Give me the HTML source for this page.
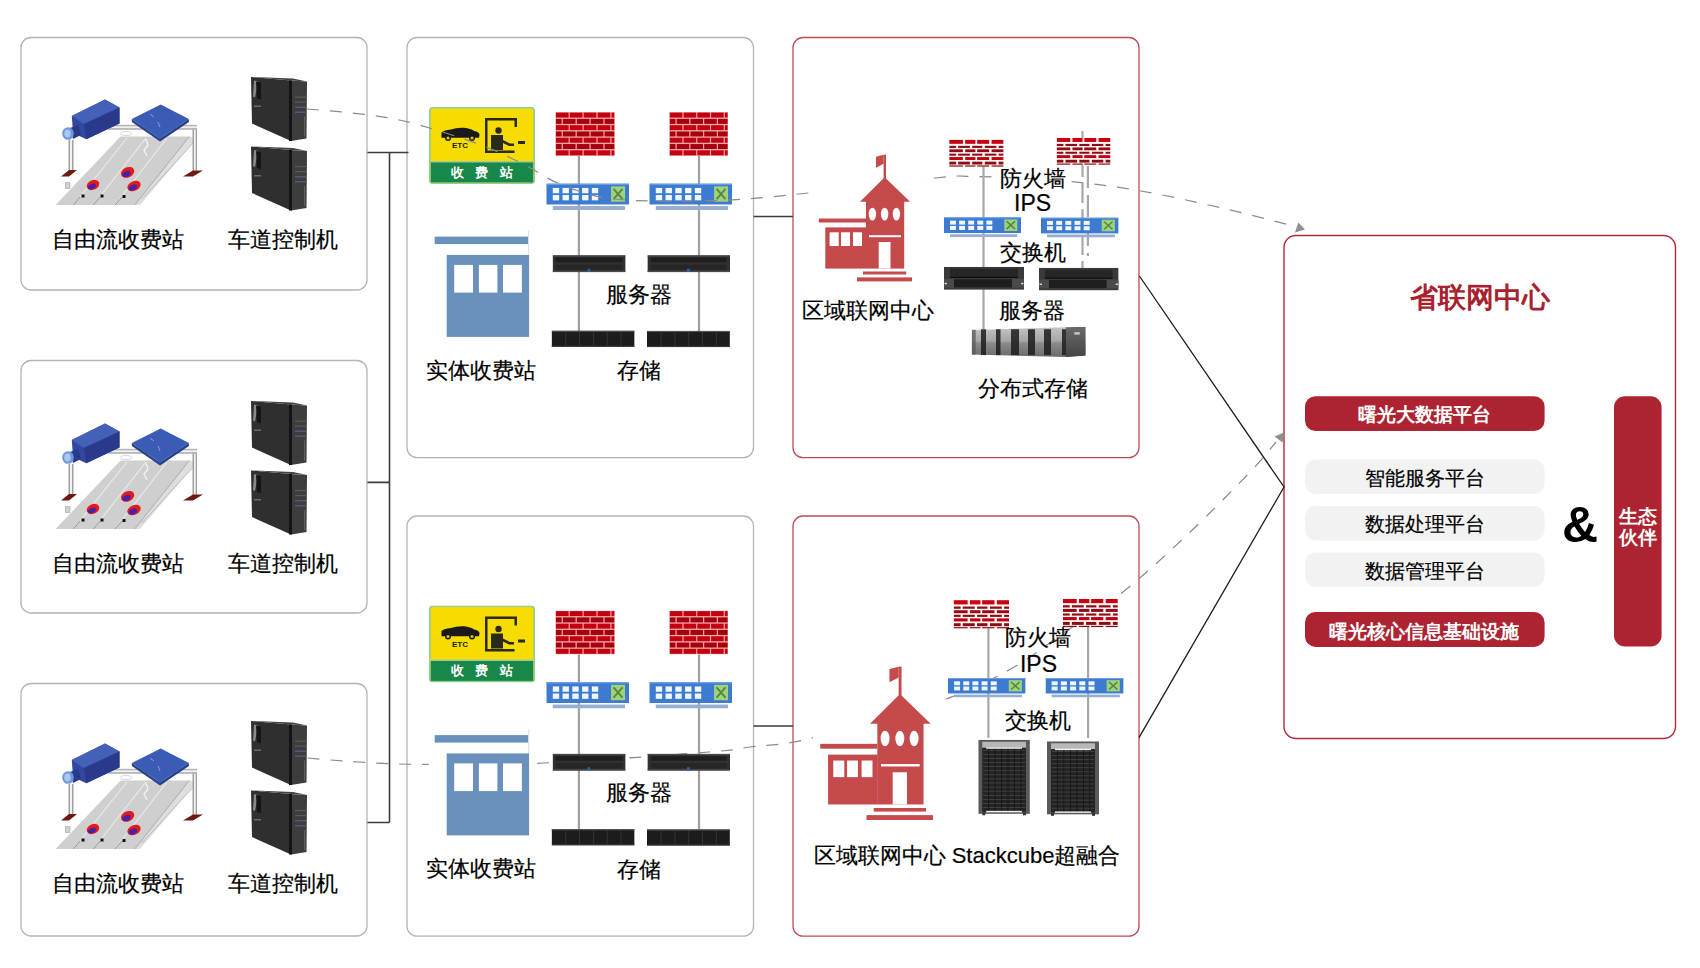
<!DOCTYPE html><html><head><meta charset="utf-8"><title>diagram</title>
<style>html,body{margin:0;padding:0;background:#fff;}svg{display:block;font-family:"Liberation Sans",sans-serif;}</style></head><body>
<svg width="1700" height="968" viewBox="0 0 1700 968">
<defs><symbol id="fw" viewBox="0 0 60 44" preserveAspectRatio="none">
<rect width="60" height="44" fill="#f3a9a9"/>
<rect x="0.60" y="0.60" width="12.80" height="4.99" fill="#c3000f"/>
<rect x="14.60" y="0.60" width="12.80" height="4.99" fill="#c3000f"/>
<rect x="28.60" y="0.60" width="12.80" height="4.99" fill="#c3000f"/>
<rect x="42.60" y="0.60" width="12.80" height="4.99" fill="#c3000f"/>
<rect x="56.60" y="0.60" width="2.80" height="4.99" fill="#c3000f"/>
<rect x="0.60" y="6.89" width="5.80" height="4.99" fill="#a5000e"/>
<rect x="7.60" y="6.89" width="12.80" height="4.99" fill="#a5000e"/>
<rect x="21.60" y="6.89" width="12.80" height="4.99" fill="#a5000e"/>
<rect x="35.60" y="6.89" width="12.80" height="4.99" fill="#a5000e"/>
<rect x="49.60" y="6.89" width="9.80" height="4.99" fill="#a5000e"/>
<rect x="0.60" y="13.17" width="12.80" height="4.99" fill="#c3000f"/>
<rect x="14.60" y="13.17" width="12.80" height="4.99" fill="#c3000f"/>
<rect x="28.60" y="13.17" width="12.80" height="4.99" fill="#c3000f"/>
<rect x="42.60" y="13.17" width="12.80" height="4.99" fill="#c3000f"/>
<rect x="56.60" y="13.17" width="2.80" height="4.99" fill="#c3000f"/>
<rect x="0.60" y="19.46" width="5.80" height="4.99" fill="#a5000e"/>
<rect x="7.60" y="19.46" width="12.80" height="4.99" fill="#a5000e"/>
<rect x="21.60" y="19.46" width="12.80" height="4.99" fill="#a5000e"/>
<rect x="35.60" y="19.46" width="12.80" height="4.99" fill="#a5000e"/>
<rect x="49.60" y="19.46" width="9.80" height="4.99" fill="#a5000e"/>
<rect x="0.60" y="25.74" width="12.80" height="4.99" fill="#c3000f"/>
<rect x="14.60" y="25.74" width="12.80" height="4.99" fill="#c3000f"/>
<rect x="28.60" y="25.74" width="12.80" height="4.99" fill="#c3000f"/>
<rect x="42.60" y="25.74" width="12.80" height="4.99" fill="#c3000f"/>
<rect x="56.60" y="25.74" width="2.80" height="4.99" fill="#c3000f"/>
<rect x="0.60" y="32.03" width="5.80" height="4.99" fill="#a5000e"/>
<rect x="7.60" y="32.03" width="12.80" height="4.99" fill="#a5000e"/>
<rect x="21.60" y="32.03" width="12.80" height="4.99" fill="#a5000e"/>
<rect x="35.60" y="32.03" width="12.80" height="4.99" fill="#a5000e"/>
<rect x="49.60" y="32.03" width="9.80" height="4.99" fill="#a5000e"/>
<rect x="0.60" y="38.31" width="12.80" height="4.99" fill="#c3000f"/>
<rect x="14.60" y="38.31" width="12.80" height="4.99" fill="#c3000f"/>
<rect x="28.60" y="38.31" width="12.80" height="4.99" fill="#c3000f"/>
<rect x="42.60" y="38.31" width="12.80" height="4.99" fill="#c3000f"/>
<rect x="56.60" y="38.31" width="2.80" height="4.99" fill="#c3000f"/>
</symbol>
<symbol id="sw" viewBox="0 0 83 27" preserveAspectRatio="none">
<rect x="0" y="0" width="83" height="21.4" fill="#3d7bd0"/>
<rect x="0" y="0" width="83" height="1.5" fill="#6aa0e8"/>
<rect x="6.5" y="23" width="72.5" height="4" fill="#98aed0"/>
<rect x="6.5" y="4.6" width="6.4" height="5.4" fill="#eef6ff"/>
<rect x="6.5" y="11.8" width="6.4" height="5.4" fill="#eef6ff"/>
<rect x="16.3" y="4.6" width="6.4" height="5.4" fill="#eef6ff"/>
<rect x="16.3" y="11.8" width="6.4" height="5.4" fill="#eef6ff"/>
<rect x="26.1" y="4.6" width="6.4" height="5.4" fill="#eef6ff"/>
<rect x="26.1" y="11.8" width="6.4" height="5.4" fill="#eef6ff"/>
<rect x="35.9" y="4.6" width="6.4" height="5.4" fill="#eef6ff"/>
<rect x="35.9" y="11.8" width="6.4" height="5.4" fill="#eef6ff"/>
<rect x="45.7" y="4.6" width="6.4" height="5.4" fill="#eef6ff"/>
<rect x="45.7" y="11.8" width="6.4" height="5.4" fill="#eef6ff"/>
<rect x="65" y="3" width="14" height="15.6" fill="#9fd27c"/>
<path d="M67.5 5.5 L76.5 16 M76.5 5.5 L67.5 16" stroke="#4a7a36" stroke-width="1.8" opacity="0.85"/>
</symbol>
<symbol id="fw2" viewBox="0 0 55 27" preserveAspectRatio="none">
<rect width="55" height="27" fill="#fff6f6"/>
<rect x="0.0" y="0.2" width="13.8" height="4.0" fill="#c80010"/>
<rect x="16.1" y="0.2" width="10.3" height="4.0" fill="#c80010"/>
<rect x="28.1" y="0.2" width="12.1" height="4.0" fill="#c80010"/>
<rect x="42.6" y="0.2" width="11.9" height="4.0" fill="#c80010"/>
<rect x="0.0" y="6.2" width="6.9" height="2.1" fill="#8a0c14"/>
<rect x="9.0" y="6.2" width="11.8" height="2.1" fill="#8a0c14"/>
<rect x="23.1" y="6.2" width="10.2" height="2.1" fill="#8a0c14"/>
<rect x="35.8" y="6.2" width="11.6" height="2.1" fill="#8a0c14"/>
<rect x="49.7" y="6.2" width="4.8" height="2.1" fill="#8a0c14"/>
<rect x="0.0" y="9.7" width="13.8" height="2.8" fill="#960a18"/>
<rect x="16.1" y="9.7" width="10.3" height="2.8" fill="#960a18"/>
<rect x="28.1" y="9.7" width="12.1" height="2.8" fill="#960a18"/>
<rect x="42.6" y="9.7" width="11.9" height="2.8" fill="#960a18"/>
<rect x="0.0" y="14.0" width="6.9" height="2.0" fill="#8a0c14"/>
<rect x="9.0" y="14.0" width="11.8" height="2.0" fill="#8a0c14"/>
<rect x="23.1" y="14.0" width="10.2" height="2.0" fill="#8a0c14"/>
<rect x="35.8" y="14.0" width="11.6" height="2.0" fill="#8a0c14"/>
<rect x="49.7" y="14.0" width="4.8" height="2.0" fill="#8a0c14"/>
<rect x="0.0" y="17.4" width="13.8" height="2.9" fill="#c00010"/>
<rect x="16.1" y="17.4" width="10.3" height="2.9" fill="#c00010"/>
<rect x="28.1" y="17.4" width="12.1" height="2.9" fill="#c00010"/>
<rect x="42.6" y="17.4" width="11.9" height="2.9" fill="#c00010"/>
<rect x="0.0" y="22.0" width="6.9" height="2.8" fill="#8a0c14"/>
<rect x="9.0" y="22.0" width="11.8" height="2.8" fill="#8a0c14"/>
<rect x="23.1" y="22.0" width="10.2" height="2.8" fill="#8a0c14"/>
<rect x="35.8" y="22.0" width="11.6" height="2.8" fill="#8a0c14"/>
<rect x="49.7" y="22.0" width="4.8" height="2.8" fill="#8a0c14"/>
<rect x="0.0" y="25.7" width="13.8" height="1.4" fill="#8a0c14"/>
<rect x="16.1" y="25.7" width="10.3" height="1.4" fill="#8a0c14"/>
<rect x="28.1" y="25.7" width="12.1" height="1.4" fill="#8a0c14"/>
<rect x="42.6" y="25.7" width="11.9" height="1.4" fill="#8a0c14"/>
</symbol>
<symbol id="srv2" viewBox="0 0 80 23" preserveAspectRatio="none">
<rect x="0" y="0" width="80" height="23" fill="#3a3a3a"/>
<rect x="6" y="2" width="68" height="8.5" fill="#262626"/>
<rect x="6" y="10" width="68" height="1.2" fill="#0e0e0e"/>
<rect x="10" y="12.5" width="60" height="8" fill="#1e1e1e"/>
<rect x="0" y="12" width="10" height="9" fill="#4a4a4a"/>
<rect x="68" y="12" width="12" height="9" fill="#4a4a4a"/>
<rect x="0.5" y="16" width="2.5" height="1.5" fill="#d0d0d0"/>
<rect x="77" y="16" width="2.5" height="1.5" fill="#d0d0d0"/>
</symbol>
<symbol id="srv" viewBox="0 0 73 17" preserveAspectRatio="none">
<rect x="0" y="0" width="73" height="17" fill="#303030"/>
<rect x="0" y="0" width="73" height="1.5" fill="#4a4a4a"/>
<rect x="3" y="2.5" width="67" height="4.5" fill="#1e1e1e"/>
<rect x="3" y="9.5" width="67" height="5" fill="#262626"/>
<rect x="0" y="15.5" width="73" height="1.5" fill="#4a4a4a"/>
<rect x="35" y="13.5" width="2.5" height="3.5" fill="#2860b8"/>
</symbol>
<symbol id="sto" viewBox="0 0 83 16" preserveAspectRatio="none">
<rect x="0" y="0" width="83" height="16" fill="#1c1c1c"/>
<rect x="0" y="0" width="83" height="1.2" fill="#555"/>
<rect x="0" y="14.8" width="83" height="1.2" fill="#3a3a3a"/>
<rect x="13.8" y="1" width="0.8" height="14" fill="#3a3a3a"/>
<rect x="27.6" y="1" width="0.8" height="14" fill="#3a3a3a"/>
<rect x="41.4" y="1" width="0.8" height="14" fill="#3a3a3a"/>
<rect x="55.2" y="1" width="0.8" height="14" fill="#3a3a3a"/>
<rect x="69.0" y="1" width="0.8" height="14" fill="#3a3a3a"/>
</symbol>
<symbol id="pc" viewBox="0 0 57 65">
<polygon points="0,0.5 40,4 40,64.5 1,47" fill="#2f2f2f"/>
<polygon points="38,4 56,5 55.5,62 40,64.5" fill="#3d3d3d"/>
<polygon points="0,0.5 40,4 56,5 42,2 " fill="#444"/>
<rect x="38" y="4" width="3" height="60.5" fill="#141414"/>
<polygon points="3,4 7,5 4,21 2,20" fill="#8a8a8a"/>
<polygon points="5,5 10,6 10,23 6,22" fill="#151515"/>
<rect x="3" y="29" width="7" height="1.5" fill="#6a6a6a"/>
<rect x="44" y="20" width="11" height="1.2" fill="#5a5a5a"/>
<rect x="44" y="25" width="11" height="1.2" fill="#5a5a5a"/>
<rect x="44" y="30" width="11" height="1.5" fill="#4f5a78"/>
<rect x="44" y="35" width="11" height="1.5" fill="#4f5a78"/>
<rect x="53" y="40" width="1.2" height="20" fill="#606060"/>
</symbol>
<symbol id="etc" viewBox="0 0 106 77">
<rect x="0.8" y="0.8" width="104.4" height="75.4" rx="3" fill="#f6dc00" stroke="#8ccf9a" stroke-width="1.6"/>
<rect x="1.8" y="55" width="102.4" height="20.4" fill="#17874a"/>
<rect x="1.8" y="54" width="102.4" height="1.5" fill="#9fc9a0"/>
<path d="M12.5 25.5 Q15 23 22 22.5 Q27 20.5 35 20.8 Q42 21.5 45 24 Q50.5 24.8 50.5 28 L50 30.8 L12.5 30.8 Z" fill="#1a1a1a"/>
<circle cx="19" cy="31" r="3" fill="#1a1a1a"/><circle cx="19" cy="31" r="1.6" fill="#d8c000"/>
<circle cx="43" cy="31" r="3" fill="#1a1a1a"/><circle cx="43" cy="31" r="1.6" fill="#d8c000"/>
<text x="31" y="41" font-size="8" font-weight="bold" text-anchor="middle" fill="#1a1a1a" font-family="Liberation Sans, sans-serif">ETC</text>
<path d="M56 11 h32 v9 h-2.5 v-6.5 h-27 v30 h27 v2.5 h-29.5 z" fill="#2a2a1a"/>
<circle cx="69.5" cy="23.5" r="3.2" fill="#2a2a1a"/>
<path d="M62 28 h12 v5 l7 3.5 h4 v2.5 h-5 l-6 -3 v7 h-12 z" fill="#2a2a1a"/>
<rect x="89" y="34" width="7" height="3" fill="#2a2a1a"/>
<text x="22" y="69.5" font-size="12.5" font-weight="bold" text-anchor="start" fill="#ffffff" letter-spacing="11.3" font-family="Liberation Sans, sans-serif">收费站</text>
</symbol>
<symbol id="booth" viewBox="0 0 95 101" overflow="visible">
<rect x="-6" y="-8" width="106" height="112" fill="#ffffff"/>
<rect x="0" y="0" width="93.5" height="7.5" fill="#6a91bc"/>
<rect x="93.5" y="-6" width="1" height="24" fill="#d8dde5"/>
<rect x="12" y="18.3" width="82.4" height="82" fill="#6a91bc"/>
<rect x="19.5" y="28.3" width="18.8" height="27.7" fill="#ffffff"/>
<rect x="44.2" y="28.3" width="18.5" height="27.7" fill="#ffffff"/>
<rect x="68.3" y="28.3" width="18.9" height="27.7" fill="#ffffff"/>
</symbol>
<symbol id="school" viewBox="0 0 93.2 126.7" overflow="visible">
<rect x="-6" y="-3" width="110" height="131" fill="#ffffff"/>
<g fill="#c54a4b">
<rect x="64.8" y="0" width="2.4" height="24"/>
<polygon points="57.2,2 64.8,0 64.8,9 57.2,13"/>
<polygon points="41.2,47.1 65.9,22.6 91.3,47.1"/>
<rect x="47.2" y="46" width="38.2" height="67.9"/>
<rect x="0" y="63.8" width="47.2" height="4"/>
<rect x="6.5" y="72.7" width="41" height="41.2"/>
<rect x="44.2" y="116.8" width="43.2" height="3"/>
<rect x="38.2" y="122.7" width="55" height="4"/>
</g>
<g fill="#ffffff">
<ellipse cx="53.6" cy="59.4" rx="3.7" ry="6.4"/>
<ellipse cx="65.8" cy="59.4" rx="3.7" ry="6.4"/>
<ellipse cx="77.6" cy="59.4" rx="3.7" ry="6.4"/>
<rect x="50.2" y="80.5" width="32" height="2"/>
<rect x="59.9" y="87.3" width="11.8" height="26.6"/>
<rect x="10.8" y="77.6" width="9.1" height="13.7"/>
<rect x="22.2" y="77.6" width="9" height="13.7"/>
<rect x="34.2" y="77.6" width="9" height="13.7"/>
</g>
</symbol>
<symbol id="rack" viewBox="0 0 52 76" preserveAspectRatio="none">
<rect x="0" y="0" width="52" height="74" fill="#5a5a5a"/>
<rect x="4" y="2" width="44" height="6" fill="#b8b8b8"/>
<rect x="4" y="8" width="44" height="64" fill="#232323"/>
<rect x="8" y="7.5" width="36" height="1.5" fill="#f0f0f0"/>
<rect x="8" y="71" width="36" height="1.5" fill="#f0f0f0"/>
<rect x="4" y="72.5" width="3" height="3" fill="#333"/><rect x="45" y="72.5" width="3" height="3" fill="#333"/>
<rect x="5" y="10.0" width="42" height="0.8" fill="#4a4a4a"/>
<rect x="5" y="14.1" width="42" height="0.8" fill="#4a4a4a"/>
<rect x="5" y="18.2" width="42" height="0.8" fill="#4a4a4a"/>
<rect x="5" y="22.3" width="42" height="0.8" fill="#4a4a4a"/>
<rect x="5" y="26.4" width="42" height="0.8" fill="#4a4a4a"/>
<rect x="5" y="30.5" width="42" height="0.8" fill="#4a4a4a"/>
<rect x="5" y="34.6" width="42" height="0.8" fill="#4a4a4a"/>
<rect x="5" y="38.7" width="42" height="0.8" fill="#4a4a4a"/>
<rect x="5" y="42.8" width="42" height="0.8" fill="#4a4a4a"/>
<rect x="5" y="46.9" width="42" height="0.8" fill="#4a4a4a"/>
<rect x="5" y="51.0" width="42" height="0.8" fill="#4a4a4a"/>
<rect x="5" y="55.1" width="42" height="0.8" fill="#4a4a4a"/>
<rect x="5" y="59.2" width="42" height="0.8" fill="#4a4a4a"/>
<rect x="5" y="63.3" width="42" height="0.8" fill="#4a4a4a"/>
<rect x="5" y="67.4" width="42" height="0.8" fill="#4a4a4a"/>
<rect x="10.0" y="9" width="0.8" height="62" fill="#151515"/>
<rect x="16.5" y="9" width="0.8" height="62" fill="#151515"/>
<rect x="23.0" y="9" width="0.8" height="62" fill="#151515"/>
<rect x="29.5" y="9" width="0.8" height="62" fill="#151515"/>
<rect x="36.0" y="9" width="0.8" height="62" fill="#151515"/>
<rect x="42.5" y="9" width="0.8" height="62" fill="#151515"/>
</symbol>
<symbol id="dsto" viewBox="0 0 114 33" preserveAspectRatio="none">
<defs><linearGradient id="dsg" x1="0" y1="0" x2="0" y2="1"><stop offset="0" stop-color="#c4c4c4"/><stop offset="0.45" stop-color="#a8a8a8"/><stop offset="0.55" stop-color="#8a8a8a"/><stop offset="1" stop-color="#6a6a6a"/></linearGradient>
<linearGradient id="dsg2" x1="0" y1="0" x2="0" y2="1"><stop offset="0" stop-color="#6a6a6a"/><stop offset="1" stop-color="#444"/></linearGradient></defs>
<polygon points="0,3.2 94.3,0.5 114,0 114,29.5 94.3,31 0,28.5" fill="url(#dsg)"/>
<polygon points="94.3,0.5 114,0 114,29.5 94.3,31" fill="url(#dsg2)"/>
<rect x="9.3" y="2.5" width="5.0" height="26.5" fill="#1c1c1c" opacity="0.85"/>
<rect x="24.3" y="2.5" width="4.5" height="26.5" fill="#1c1c1c" opacity="0.85"/>
<rect x="39.3" y="2.5" width="8.0" height="26.5" fill="#1c1c1c" opacity="0.85"/>
<rect x="56.3" y="2.5" width="7.0" height="26.5" fill="#1c1c1c" opacity="0.85"/>
<rect x="72.3" y="2.5" width="7.0" height="26.5" fill="#1c1c1c" opacity="0.85"/>
<rect x="90.3" y="2.5" width="4.0" height="26.5" fill="#1c1c1c" opacity="0.85"/>
<rect x="0" y="3" width="4" height="25.5" fill="#555" opacity="0.7"/>
<rect x="102.6" y="5.5" width="5.5" height="2.5" fill="#c8c8c8"/>
</symbol>
<symbol id="ff" viewBox="0 0 160 115">
<polygon points="5.6,110 84.7,110 139.3,41.6 70.6,41.6" fill="#cfcfcf"/>
<polygon points="84.7,110 90,110 146,44 139.3,41.6" fill="#dedede"/>
<path d="M84.7 110 L139.3 41.6" stroke="#a8a8a8" stroke-width="1"/>
<path d="M92 104 L146 45" stroke="#b0b0b0" stroke-width="0.8"/>
<path d="M23.5 110 L77 43 M43.3 110 L96 43 M65 110 L117 43" stroke="#ececec" stroke-width="1.1"/>
<path d="M23.5 110 L30 102 M43.3 110 L50 102 M65 110 L72 102" stroke="#909090" stroke-width="1"/>
<polygon points="37.6,36 42.4,30 42.4,36" fill="#c4c4c4"/>
<rect x="15.5" y="87.7" width="4.5" height="5.7" fill="#d0d0d0" stroke="#a0a0a0" stroke-width="0.6"/>
<rect x="18.5" y="45" width="5" height="33" fill="#a0a0a0"/><rect x="20" y="45" width="2" height="33" fill="#f2f2f2"/>
<rect x="142.5" y="31" width="4.5" height="46" fill="#a0a0a0"/><rect x="144" y="31" width="1.7" height="46" fill="#f2f2f2"/>
<rect x="58" y="29.8" width="89" height="5" fill="#b4b4b4"/>
<rect x="58" y="31.3" width="89" height="1.8" fill="#f0f0f0"/>
<polygon points="11,81.5 19,75 27,75 19,81.5" fill="#6e1a10"/>
<polygon points="133,81.5 143,75.5 153,75.5 143,81.5" fill="#6e1a10"/>
<polygon points="21.8,21.1 55,4.5 69.5,12.5 69.5,28.4 36.3,44.3 23,38" fill="#3248a0"/>
<polygon points="21.8,21.1 55,4.5 69.5,12.5 34,29" fill="#4560b8"/>
<polygon points="34,29 69.5,12.5 69.5,28.4 36.3,44.3" fill="#2a3a8a"/>
<polygon points="20,33 28,30 31,40 23,44" fill="#2a3a8a"/>
<ellipse cx="18" cy="38.5" rx="5.8" ry="6.3" fill="#6f98dc"/>
<ellipse cx="17.5" cy="38.5" rx="3.2" ry="4" fill="#a9c7f0"/>
<polygon points="81.8,24 110.7,9.6 138.9,24 110,43.5" fill="#3a5cb5"/>
<polygon points="81.8,24 110,43.5 110,46.5 81.8,27" fill="#2a4490"/>
<polygon points="110,43.5 138.9,24 138.9,27 110,46.5" fill="#24408a"/>
<path d="M100 19 l4 3 M108 27 l2 5" stroke="#9ab0e0" stroke-width="0.8"/>
<path d="M96 44 l2 6 l-4 5 l3 6" stroke="#f4f4f4" stroke-width="1.3" fill="none"/>
<ellipse cx="76" cy="38.5" rx="6" ry="2" fill="none" stroke="#d8d8d8" stroke-width="1"/>
<g>
<ellipse cx="43" cy="90" rx="6.5" ry="4.8" fill="#e41a1a" transform="rotate(-25 43 90)"/>
<ellipse cx="42" cy="91.5" rx="4.2" ry="2.6" fill="#4a20a8" transform="rotate(-25 42 91.5)"/>
<ellipse cx="77.6" cy="77.4" rx="7" ry="5" fill="#e41a1a" transform="rotate(-25 77.6 77.4)"/>
<ellipse cx="76.5" cy="79" rx="4.4" ry="2.7" fill="#4a20a8" transform="rotate(-25 76.5 79)"/>
<ellipse cx="84" cy="91" rx="7" ry="4.8" fill="#e41a1a" transform="rotate(-25 84 91)"/>
<ellipse cx="83" cy="92.5" rx="4.4" ry="2.7" fill="#4a20a8" transform="rotate(-25 83 92.5)"/>
</g>
<rect x="31.5" y="99.5" width="3" height="3" fill="#111"/>
<rect x="50.5" y="99.5" width="3" height="3" fill="#111"/>
<rect x="72.5" y="100" width="3" height="3" fill="#111"/>
</symbol></defs>
<rect width="1700" height="968" fill="#ffffff"/>
<rect x="21.0" y="37.5" width="346.0" height="252.5" rx="10" fill="none" stroke="#b4b4b4" stroke-width="1.3"/>
<rect x="21.0" y="360.5" width="346.0" height="252.5" rx="10" fill="none" stroke="#b4b4b4" stroke-width="1.3"/>
<rect x="21.0" y="683.5" width="346.0" height="252.5" rx="10" fill="none" stroke="#b4b4b4" stroke-width="1.3"/>
<rect x="407.0" y="37.5" width="346.5" height="420.1" rx="10" fill="none" stroke="#b4b4b4" stroke-width="1.3"/>
<rect x="407.0" y="516.0" width="346.5" height="420.2" rx="10" fill="none" stroke="#b4b4b4" stroke-width="1.3"/>
<rect x="793.0" y="37.5" width="346.0" height="420.1" rx="10" fill="none" stroke="#bf4a56" stroke-width="1.3"/>
<rect x="793.0" y="516.0" width="346.0" height="420.2" rx="10" fill="none" stroke="#bf4a56" stroke-width="1.3"/>
<rect x="1284.0" y="235.5" width="391.5" height="503.0" rx="12" fill="none" stroke="#b42a38" stroke-width="1.4"/>
<use href="#ff" x="50.0" y="95.0" width="160.0" height="115.0"/>
<use href="#pc" x="251.0" y="76.5" width="57.0" height="65.0"/>
<use href="#pc" x="251.0" y="146.0" width="57.0" height="65.0"/>
<text x="118.2" y="246.8" font-size="22" text-anchor="middle" font-weight="normal" fill="#000" stroke="#000" stroke-width="0.2">自由流收费站</text>
<text x="283.0" y="246.8" font-size="22" text-anchor="middle" font-weight="normal" fill="#000" stroke="#000" stroke-width="0.2">车道控制机</text>
<use href="#ff" x="50.0" y="419.0" width="160.0" height="115.0"/>
<use href="#pc" x="251.0" y="400.5" width="57.0" height="65.0"/>
<use href="#pc" x="251.0" y="470.0" width="57.0" height="65.0"/>
<text x="118.2" y="570.8" font-size="22" text-anchor="middle" font-weight="normal" fill="#000" stroke="#000" stroke-width="0.2">自由流收费站</text>
<text x="283.0" y="570.8" font-size="22" text-anchor="middle" font-weight="normal" fill="#000" stroke="#000" stroke-width="0.2">车道控制机</text>
<use href="#ff" x="50.0" y="739.0" width="160.0" height="115.0"/>
<use href="#pc" x="251.0" y="720.5" width="57.0" height="65.0"/>
<use href="#pc" x="251.0" y="790.0" width="57.0" height="65.0"/>
<text x="118.2" y="890.8" font-size="22" text-anchor="middle" font-weight="normal" fill="#000" stroke="#000" stroke-width="0.2">自由流收费站</text>
<text x="283.0" y="890.8" font-size="22" text-anchor="middle" font-weight="normal" fill="#000" stroke="#000" stroke-width="0.2">车道控制机</text>
<rect x="577.8" y="156.0" width="2.2" height="175.0" fill="#a0a0a0"/>
<rect x="697.9" y="156.0" width="2.2" height="175.0" fill="#a0a0a0"/>
<use href="#etc" x="429.0" y="107.0" width="106.0" height="77.0"/>
<use href="#fw" x="555.3" y="112.0" width="59.6" height="44.0"/>
<use href="#fw" x="669.2" y="112.0" width="59.0" height="44.0"/>
<use href="#sw" x="546.3" y="183.4" width="82.7" height="26.6"/>
<use href="#sw" x="649.3" y="183.4" width="82.7" height="26.6"/>
<use href="#srv" x="552.6" y="255.2" width="73.0" height="17.0"/>
<use href="#srv" x="647.4" y="255.2" width="82.6" height="17.0"/>
<use href="#sto" x="551.6" y="330.6" width="83.0" height="16.4"/>
<use href="#sto" x="646.9" y="330.8" width="83.0" height="16.4"/>
<use href="#booth" x="434.7" y="236.6" width="95.0" height="101.0"/>
<text x="639.0" y="301.8" font-size="22" text-anchor="middle" font-weight="normal" fill="#000" stroke="#000" stroke-width="0.2">服务器</text>
<text x="638.7" y="378.2" font-size="22" text-anchor="middle" font-weight="normal" fill="#000" stroke="#000" stroke-width="0.2">存储</text>
<text x="481.3" y="377.6" font-size="22" text-anchor="middle" font-weight="normal" fill="#000" stroke="#000" stroke-width="0.2">实体收费站</text>
<path d="M307.0 109.0 C316.8 109.9 348.3 112.2 366.0 114.6 C383.7 117.0 393.8 118.2 413.0 123.3 C432.2 128.4 462.3 138.1 481.0 145.0 C499.7 151.9 511.8 158.5 525.0 165.0 C538.2 171.5 545.2 178.3 560.0 184.0 C574.8 189.7 588.5 196.2 614.0 199.0 C639.5 201.8 682.2 201.4 713.0 200.6 C743.8 199.8 762.0 197.8 799.0 194.0 C836.0 190.2 905.8 180.9 935.0 178.0 C964.2 175.1 953.0 176.1 974.0 176.5 C995.0 176.9 1033.5 178.3 1061.0 180.7 C1088.5 183.0 1111.5 185.9 1139.0 190.6 C1166.5 195.3 1199.7 202.9 1226.0 209.0 C1252.3 215.1 1285.2 224.0 1297.0 227.0" stroke="#8a8a8a" stroke-width="1.2" fill="none" stroke-dasharray="12 11"/>
<path d="M307.5 758.0 C315.9 758.7 338.8 760.9 358.0 762.0 C377.2 763.1 392.0 764.2 423.0 764.4 C454.0 764.6 496.3 765.1 544.0 763.0 C591.7 760.9 674.7 754.7 709.0 752.0 C743.3 749.3 733.1 749.3 750.0 747.0 C766.9 744.7 778.9 746.1 810.6 738.4 C842.3 730.7 907.0 712.6 940.4 701.0 C973.8 689.4 989.6 680.7 1010.7 669.0 C1031.8 657.3 1048.3 643.5 1067.0 630.7 C1085.7 617.9 1103.2 607.8 1123.0 592.0 C1142.8 576.2 1164.9 555.9 1186.0 536.0 C1207.1 516.1 1234.4 488.4 1249.4 472.7 C1264.4 457.0 1271.6 447.1 1276.0 442.0" stroke="#8a8a8a" stroke-width="1.2" fill="none" stroke-dasharray="12 11"/>
<rect x="577.8" y="654.5" width="2.2" height="175.0" fill="#a0a0a0"/>
<rect x="697.9" y="654.5" width="2.2" height="175.0" fill="#a0a0a0"/>
<use href="#etc" x="429.0" y="605.5" width="106.0" height="77.0"/>
<use href="#fw" x="555.3" y="610.5" width="59.6" height="44.0"/>
<use href="#fw" x="669.2" y="610.5" width="59.0" height="44.0"/>
<use href="#sw" x="546.3" y="681.9" width="82.7" height="26.6"/>
<use href="#sw" x="649.3" y="681.9" width="82.7" height="26.6"/>
<use href="#srv" x="552.6" y="753.7" width="73.0" height="17.0"/>
<use href="#srv" x="647.4" y="753.7" width="82.6" height="17.0"/>
<use href="#sto" x="551.6" y="829.1" width="83.0" height="16.4"/>
<use href="#sto" x="646.9" y="829.3" width="83.0" height="16.4"/>
<use href="#booth" x="434.7" y="735.1" width="95.0" height="101.0"/>
<text x="639.0" y="800.3" font-size="22" text-anchor="middle" font-weight="normal" fill="#000" stroke="#000" stroke-width="0.2">服务器</text>
<text x="638.7" y="876.7" font-size="22" text-anchor="middle" font-weight="normal" fill="#000" stroke="#000" stroke-width="0.2">存储</text>
<text x="481.3" y="876.1" font-size="22" text-anchor="middle" font-weight="normal" fill="#000" stroke="#000" stroke-width="0.2">实体收费站</text>
<rect x="982.4" y="166" width="2.2" height="163" fill="#a8a8a8"/>
<path d="M1082.5 131 V290" stroke="#a8a8a8" stroke-width="2.2" stroke-dasharray="20 6"/>
<path d="M1087.9 166 V256" stroke="#a8a8a8" stroke-width="2.2" stroke-dasharray="22 7"/>
<use href="#fw2" x="949.2" y="139.6" width="54.7" height="27.1"/>
<use href="#fw2" x="1056.6" y="137.7" width="54.2" height="27.1"/>
<use href="#sw" x="944.0" y="217.2" width="77.0" height="20.0"/>
<use href="#sw" x="1040.9" y="217.5" width="77.7" height="20.0"/>
<use href="#srv2" x="944.0" y="266.8" width="80.0" height="23.0"/>
<use href="#srv2" x="1039.0" y="267.8" width="79.6" height="22.6"/>
<use href="#dsto" x="971.7" y="326.8" width="114.0" height="32.2"/>
<use href="#school" x="818.8" y="154.7" width="93.2" height="126.7"/>
<text x="868.0" y="318.0" font-size="22" text-anchor="middle" font-weight="normal" fill="#000" stroke="#000" stroke-width="0.2">区域联网中心</text>
<text x="1031.7" y="317.8" font-size="22" text-anchor="middle" font-weight="normal" fill="#000" stroke="#000" stroke-width="0.2">服务器</text>
<text x="1033.0" y="396.0" font-size="22" text-anchor="middle" font-weight="normal" fill="#000" stroke="#000" stroke-width="0.2">分布式存储</text>
<text x="1033.0" y="186.0" font-size="22" text-anchor="middle" font-weight="normal" fill="#000" stroke="#000" stroke-width="0.2">防火墙</text>
<text x="1032.6" y="210.6" font-size="23" text-anchor="middle" font-weight="normal" fill="#000" stroke="#000" stroke-width="0.2">IPS</text>
<text x="1032.6" y="260.4" font-size="22" text-anchor="middle" font-weight="normal" fill="#000" stroke="#000" stroke-width="0.2">交换机</text>
<rect x="987.3" y="628" width="2.2" height="110" fill="#a8a8a8"/>
<rect x="1087" y="627" width="2.2" height="111" fill="#a8a8a8"/>
<use href="#fw2" x="953.6" y="600.0" width="55.9" height="28.5"/>
<use href="#fw2" x="1062.8" y="598.7" width="55.4" height="28.5"/>
<use href="#sw" x="948.0" y="678.0" width="77.6" height="19.5"/>
<use href="#sw" x="1045.5" y="678.0" width="78.1" height="19.5"/>
<use href="#rack" x="978.3" y="739.8" width="51.6" height="76.0"/>
<use href="#rack" x="1047.0" y="741.3" width="52.0" height="75.0"/>
<use href="#school" x="820.2" y="666.6" width="112.8" height="153.4"/>
<text x="1038.0" y="645.2" font-size="22" text-anchor="middle" font-weight="normal" fill="#000" stroke="#000" stroke-width="0.2">防火墙</text>
<text x="1038.5" y="671.9" font-size="23" text-anchor="middle" font-weight="normal" fill="#000" stroke="#000" stroke-width="0.2">IPS</text>
<text x="1038.0" y="728.3" font-size="22" text-anchor="middle" font-weight="normal" fill="#000" stroke="#000" stroke-width="0.2">交换机</text>
<text x="967.0" y="862.6" font-size="22" text-anchor="middle" font-weight="normal" fill="#000" stroke="#000" stroke-width="0.2">区域联网中心 Stackcube超融合</text>
<path d="M367.4 152.5 H408.5 M389.5 152.5 V822.5 M367.4 482.4 H389.5 M367.4 822.5 H389.5" stroke="#3c3c3c" stroke-width="1.6" fill="none"/>
<path d="M753.5 216.5 H793 M753.5 726 H793" stroke="#3c3c3c" stroke-width="1.6" fill="none"/>
<path d="M1139.4 276 L1284 487 L1139 737.6" stroke="#1e1e1e" stroke-width="1.3" fill="none"/>
<polygon points="1305,229.4 1298.3,222.5 1295,232.6" fill="#8f8f8f"/>
<polygon points="1284,432.5 1274.5,436.5 1282.7,442.5" fill="#8f8f8f"/>
<text x="1479.8" y="307.0" font-size="28" text-anchor="middle" font-weight="bold" fill="#a8222e">省联网中心</text>
<rect x="1305" y="396.2" width="239.6" height="34.8" rx="10.5" fill="#ad2331"/>
<text x="1424.2" y="421.0" font-size="19.4" text-anchor="middle" font-weight="bold" fill="#ffffff">曙光大数据平台</text>
<rect x="1305" y="459.5" width="239.6" height="34.4" rx="10.5" fill="#f2f2f2"/>
<text x="1424.5" y="484.6" font-size="19.7" text-anchor="middle" font-weight="normal" fill="#000" stroke="#000" stroke-width="0.2">智能服务平台</text>
<rect x="1305" y="506.0" width="239.6" height="34.5" rx="10.5" fill="#f2f2f2"/>
<text x="1424.5" y="531.1" font-size="19.7" text-anchor="middle" font-weight="normal" fill="#000" stroke="#000" stroke-width="0.2">数据处理平台</text>
<rect x="1305" y="552.4" width="239.6" height="34.4" rx="10.5" fill="#f2f2f2"/>
<text x="1424.5" y="577.5" font-size="19.7" text-anchor="middle" font-weight="normal" fill="#000" stroke="#000" stroke-width="0.2">数据管理平台</text>
<rect x="1305" y="612" width="239.6" height="34.9" rx="10.5" fill="#ad2331"/>
<text x="1424.0" y="638.4" font-size="19.2" text-anchor="middle" font-weight="bold" fill="#ffffff">曙光核心信息基础设施</text>
<rect x="1614" y="396.2" width="47.6" height="250.3" rx="11" fill="#ad2331"/>
<text x="1637.5" y="522.5" font-size="19" text-anchor="middle" font-weight="bold" fill="#ffffff">生态</text>
<text x="1637.5" y="544.3" font-size="19" text-anchor="middle" font-weight="bold" fill="#ffffff">伙伴</text>
<text x="1580.0" y="542.0" font-size="50" text-anchor="middle" font-weight="bold" fill="#000">&amp;</text>
</svg></body></html>
